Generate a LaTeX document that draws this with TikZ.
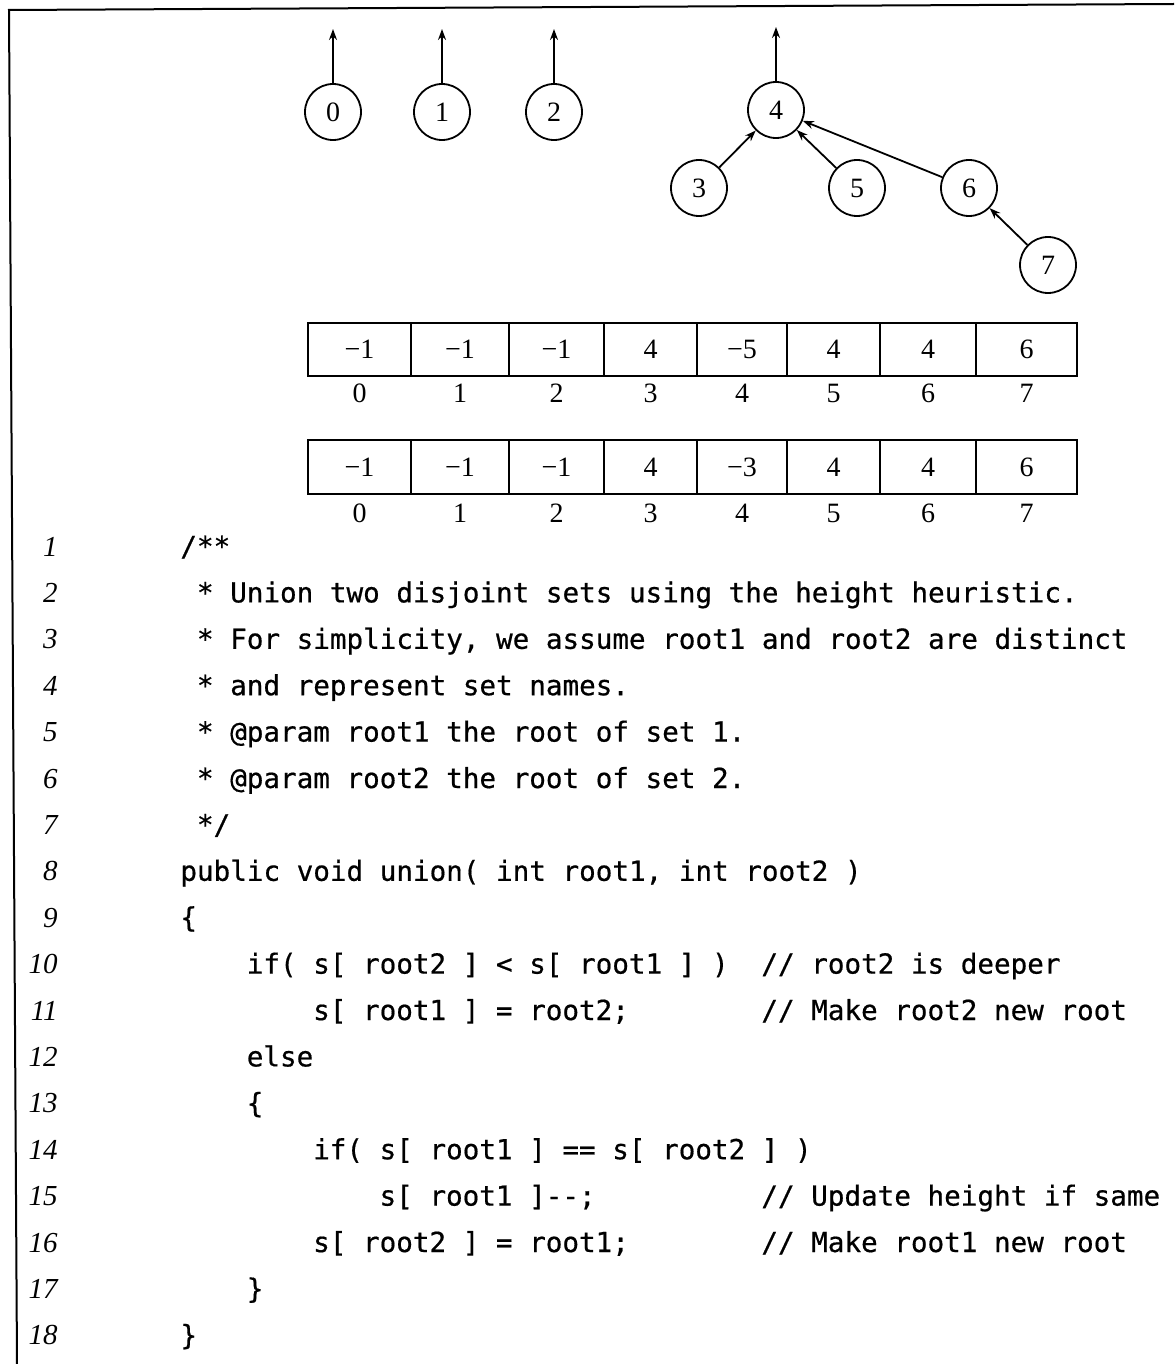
\documentclass[tikz,border=0pt]{standalone}
\usepackage{fontspec}
\setmainfont{Liberation Serif}
\newfontfamily\codefont{DejaVu Sans Mono}[FakeBold=0.6]
\usetikzlibrary{arrows.meta}
\begin{document}
\begin{tikzpicture}[x=0.5pt,y=-0.5pt,
  vtx/.style={circle,draw,line width=0.9pt,minimum size=28pt,inner sep=0pt,font=\fontsize{14}{16}\selectfont},
  edge/.style={line width=0.9pt,-{Stealth[length=5.5pt,width=4pt]}},
  cellbox/.style={draw,line width=1pt},
  val/.style={font=\fontsize{14}{16}\selectfont,inner sep=0pt},
  idx/.style={font=\fontsize{14}{16}\selectfont,inner sep=0pt},
  code/.style={font=\codefont\fontsize{13.8}{16}\selectfont,anchor=base west,inner sep=0pt},
  lnum/.style={font=\itshape\fontsize{14.5}{16}\selectfont,anchor=base east,inner sep=0pt}]
\useasboundingbox (0,0) rectangle (1174,1364);
% frame
\draw[line width=1pt] (17,1364) -- (9,10) -- (1174,4);
% forest
\node[vtx] (n0) at (333,112) {0};
\node[vtx] (n1) at (442,112) {1};
\node[vtx] (n2) at (554,112) {2};
\node[vtx] (n4) at (776,110) {4};
\node[vtx] (n3) at (699,188) {3};
\node[vtx] (n5) at (857,188) {5};
\node[vtx] (n6) at (969,188) {6};
\node[vtx] (n7) at (1048,265) {7};
\coordinate (t0) at (333,29);
\coordinate (t1) at (442,29);
\coordinate (t2) at (554,29);
\coordinate (t4) at (776,27);
\draw[edge] (n0) -- (t0);
\draw[edge] (n1) -- (t1);
\draw[edge] (n2) -- (t2);
\draw[edge] (n4) -- (t4);
\draw[edge] (n3) -- (n4);
\draw[edge] (n5) -- (n4);
\draw[edge] (n6) -- (n4);
\draw[edge] (n7) -- (n6);
% arrays
\foreach \a/\b/\v/\w/\i in {308/411/−1/−1/0, 411/509/−1/−1/1, 509/604/−1/−1/2, 604/697/4/4/3,
    697/787/−5/−3/4, 787/880/4/4/5, 880/976/4/4/6, 976/1077/6/6/7}{
  \draw[cellbox] (\a,323) rectangle (\b,376);
  \node[val] (top\i) at ({(\a+\b)/2},349.5) {\v};
  \node[idx] (ti\i) at ({(\a+\b)/2},393) {\i};
  \draw[cellbox] (\a,440) rectangle (\b,494);
  \node[val] (bot\i) at ({(\a+\b)/2},467) {\w};
  \node[idx] (bi\i) at ({(\a+\b)/2},513) {\i};
}
% line numbers
\foreach \k in {1,...,18}{
  \node[lnum] (ln\k) at (58,{556+(\k-1)*46.4}) {\k};
}
% code (column c at x = 180 + 16.6 c)
\node[code] (c1) at (180,556) {/**};
\node[code] (c2) at (196.6,602.4) {* Union two disjoint sets using the height heuristic.};
\node[code] (c3) at (196.6,648.8) {* For simplicity, we assume root1 and root2 are distinct};
\node[code] (c4) at (196.6,695.2) {* and represent set names.};
\node[code] (c5) at (196.6,741.6) {* @param root1 the root of set 1.};
\node[code] (c6) at (196.6,788.0) {* @param root2 the root of set 2.};
\node[code] (c7) at (196.6,834.4) {*/};
\node[code] (c8) at (180,880.8) {public void union( int root1, int root2 )};
\node[code] (c9) at (180,927.2) {\{};
\node[code] (c10) at (246.4,973.6) {if( s[ root2 ] < s[ root1 ] )};
\node[code] (m10) at (761,973.6) {// root2 is deeper};
\node[code] (c11) at (312.8,1020.0) {s[ root1 ] = root2;};
\node[code] (m11) at (761,1020.0) {// Make root2 new root};
\node[code] (c12) at (246.4,1066.4) {else};
\node[code] (c13) at (246.4,1112.8) {\{};
\node[code] (c14) at (312.8,1159.2) {if( s[ root1 ] == s[ root2 ] )};
\node[code] (c15) at (379.2,1205.6) {s[ root1 ]-{}-;};
\node[code] (m15) at (761,1205.6) {// Update height if same};
\node[code] (c16) at (312.8,1252.0) {s[ root2 ] = root1;};
\node[code] (m16) at (761,1252.0) {// Make root1 new root};
\node[code] (c17) at (246.4,1298.4) {\}};
\node[code] (c18) at (180,1344.8) {\}};
\end{tikzpicture}
\end{document}
